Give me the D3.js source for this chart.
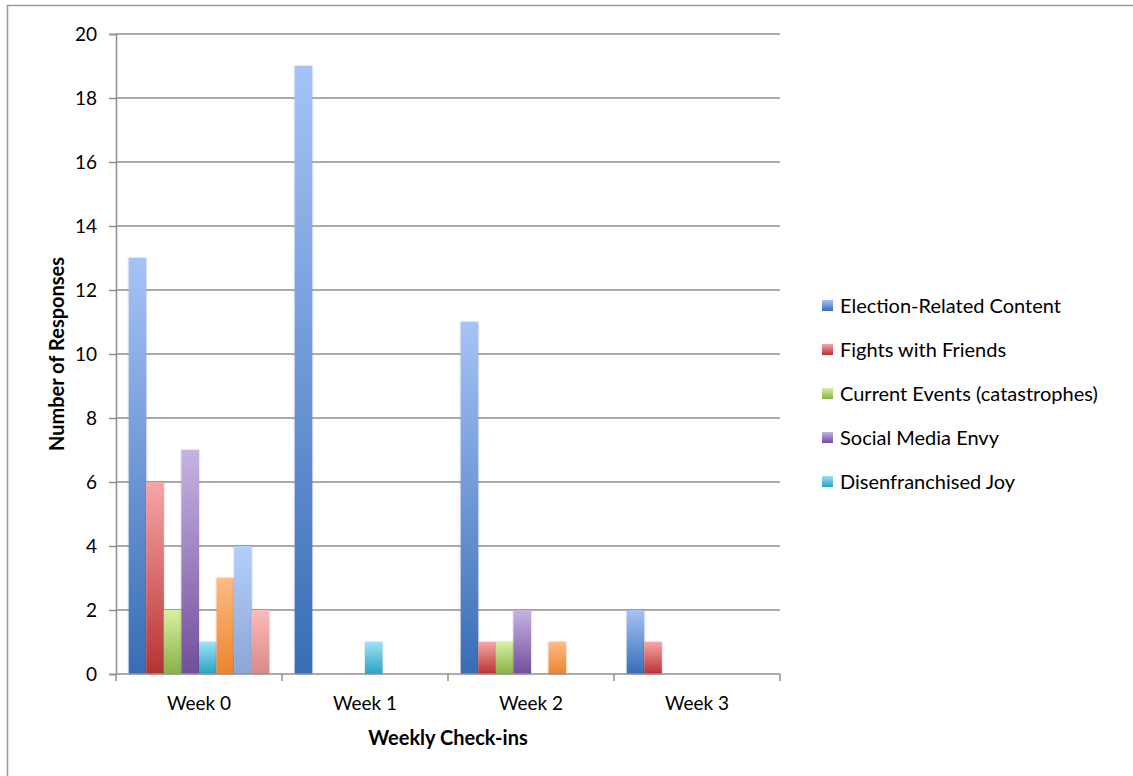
<!DOCTYPE html>
<html>
<head>
<meta charset="utf-8">
<script src="https://cdn.jsdelivr.net/npm/d3@7"></script>
<style>
  html, body { margin: 0; padding: 0; background: #ffffff; }
  svg { display: block; }
  text { font-family: Lato, "Open Sans", sans-serif; fill: #000; }
</style>
</head>
<body>
<svg id="chart" width="1133" height="776"></svg>
<script>
// Weekly check-in categories
const weeks = ["Week 0", "Week 1", "Week 2", "Week 3"];

// Series shown in the legend
const legendNames = [
  "Election-Related Content",
  "Fights with Friends",
  "Current Events (catastrophes)",
  "Social Media Envy",
  "Disenfranchised Joy"
];

// Response counts per series, one value per week
const electionContent = [13, 19, 11, 2];
const fightsWithFriends = [6, 0, 1, 1];
const currentEvents = [2, 0, 1, 0];
const socialMediaEnvy = [7, 0, 2, 0];
const disenfranchisedJoy = [1, 1, 0, 0];
const series6 = [3, 0, 1, 0];
const series7 = [4, 0, 0, 0];
const series8 = [2, 0, 0, 0];

const yTicks = [0, 2, 4, 6, 8, 10, 12, 14, 16, 18, 20];

// Gradient stops (top, bottom) for each series
const seriesColors = [
  ["#a6c3f7", "#376db6"],
  ["#f7a6a6", "#b73232"],
  ["#d8f0a3", "#89b046"],
  ["#c6b3e2", "#724e9c"],
  ["#9de2f6", "#2aa2c3"],
  ["#fdbb84", "#ee832d"],
  ["#b5cffb", "#8ba6d7"],
  ["#fcbaba", "#d88a8a"]
];

const seriesValues = [
  electionContent, fightsWithFriends, currentEvents, socialMediaEnvy,
  disenfranchisedJoy, series6, series7, series8
];

const svg = d3.select("#chart");

// Outer chart frame
svg.append("rect")
  .attr("x", 7.5).attr("y", 5.5)
  .attr("width", 1140).attr("height", 790)
  .attr("fill", "none").attr("stroke", "#9a9a9a").attr("stroke-width", 1.5);

const plot = { left: 116, right: 780, top: 34, bottom: 674 };

const x0 = d3.scaleBand().domain(weeks).range([plot.left, plot.right]).padding(0);
const x1 = d3.scaleBand()
  .domain(d3.range(seriesValues.length))
  .range([12.7, x0.bandwidth() - 12.7])
  .padding(0);
const y = d3.scaleLinear().domain([0, 20]).range([plot.bottom, plot.top]);

// Gradients
const defs = svg.append("defs");
seriesColors.forEach((c, i) => {
  const g = defs.append("linearGradient")
    .attr("id", "grad" + i)
    .attr("x1", 0).attr("y1", 0).attr("x2", 0).attr("y2", 1);
  g.append("stop").attr("offset", "0%").attr("stop-color", c[0]);
  g.append("stop").attr("offset", "100%").attr("stop-color", c[1]);
});
const shadow = defs.append("filter").attr("id", "soft")
  .attr("x", "-30%").attr("y", "-10%").attr("width", "160%").attr("height", "120%");
shadow.append("feGaussianBlur").attr("in", "SourceAlpha").attr("stdDeviation", 1.2).attr("result", "b");
shadow.append("feComponentTransfer").attr("in", "b").attr("result", "s")
  .append("feFuncA").attr("type", "linear").attr("slope", 0.25);
const merge = shadow.append("feMerge");
merge.append("feMergeNode").attr("in", "s");
merge.append("feMergeNode").attr("in", "SourceGraphic");

// Horizontal gridlines
svg.append("g")
  .selectAll("line")
  .data(yTicks.filter(t => t > 0))
  .join("line")
  .attr("x1", plot.left).attr("x2", plot.right)
  .attr("y1", d => y(d)).attr("y2", d => y(d))
  .attr("stroke", "#8f8f8f").attr("stroke-width", 1.5);

// Y axis
const yAxis = svg.append("g")
  .attr("transform", `translate(${plot.left},0)`)
  .call(d3.axisLeft(y).tickValues(yTicks).tickSize(7).tickPadding(12));
yAxis.select(".domain").attr("stroke", "#8f8f8f").attr("stroke-width", 1.5);
yAxis.selectAll(".tick line").attr("stroke", "#8f8f8f").attr("stroke-width", 1.5);
yAxis.selectAll(".tick text").style("font-size", "19px").attr("fill", "#000");

// Bars
const groups = svg.append("g")
  .selectAll("g")
  .data(weeks)
  .join("g")
  .attr("transform", d => `translate(${x0(d)},0)`);

groups.selectAll("rect")
  .data((w, wi) => seriesValues.map((vals, si) => ({ si, v: vals[wi] })).filter(d => d.v > 0))
  .join("rect")
  .attr("x", d => x1(d.si))
  .attr("width", x1.bandwidth())
  .attr("y", d => y(d.v))
  .attr("height", d => y(0) - y(d.v))
  .attr("fill", d => `url(#grad${d.si})`)
  .attr("filter", "url(#soft)");

// X axis with category boundary ticks
const xAxisG = svg.append("g");
xAxisG.append("line")
  .attr("x1", plot.left).attr("x2", plot.right)
  .attr("y1", plot.bottom).attr("y2", plot.bottom)
  .attr("stroke", "#8f8f8f").attr("stroke-width", 1.5);
const bounds = weeks.map(w => x0(w)).concat([x0(weeks[weeks.length - 1]) + x0.bandwidth()]);
xAxisG.selectAll("line.tick")
  .data(bounds)
  .join("line")
  .attr("class", "tick")
  .attr("x1", d => d).attr("x2", d => d)
  .attr("y1", plot.bottom).attr("y2", plot.bottom + 7)
  .attr("stroke", "#8f8f8f").attr("stroke-width", 1.5);
xAxisG.selectAll("text")
  .data(weeks)
  .join("text")
  .attr("x", d => x0(d) + x0.bandwidth() / 2)
  .attr("y", 710)
  .attr("text-anchor", "middle")
  .style("font-size", "19px")
  .text(d => d);

// Axis titles
svg.append("text")
  .attr("x", (plot.left + plot.right) / 2)
  .attr("y", 745)
  .attr("text-anchor", "middle")
  .style("font-size", "20px").style("font-weight", "bold")
  .text("Weekly Check-ins");

svg.append("text")
  .attr("transform", `translate(64,${(plot.top + plot.bottom) / 2}) rotate(-90)`)
  .attr("text-anchor", "middle")
  .style("font-size", "20px").style("font-weight", "bold")
  .text("Number of Responses");

// Legend
const legend = svg.append("g");
const legendY = d3.scalePoint().domain(d3.range(legendNames.length)).range([306, 482]);
legendNames.forEach((name, i) => {
  const row = legend.append("g").attr("transform", `translate(822,${legendY(i)})`);
  row.append("rect")
    .attr("x", 0).attr("y", -6).attr("width", 11).attr("height", 11)
    .attr("fill", `url(#grad${i})`);
  row.append("text")
    .attr("x", 18).attr("y", 0).attr("dy", "0.35em")
    .style("font-size", "20px")
    .text(name);
});
</script>
</body>
</html>
